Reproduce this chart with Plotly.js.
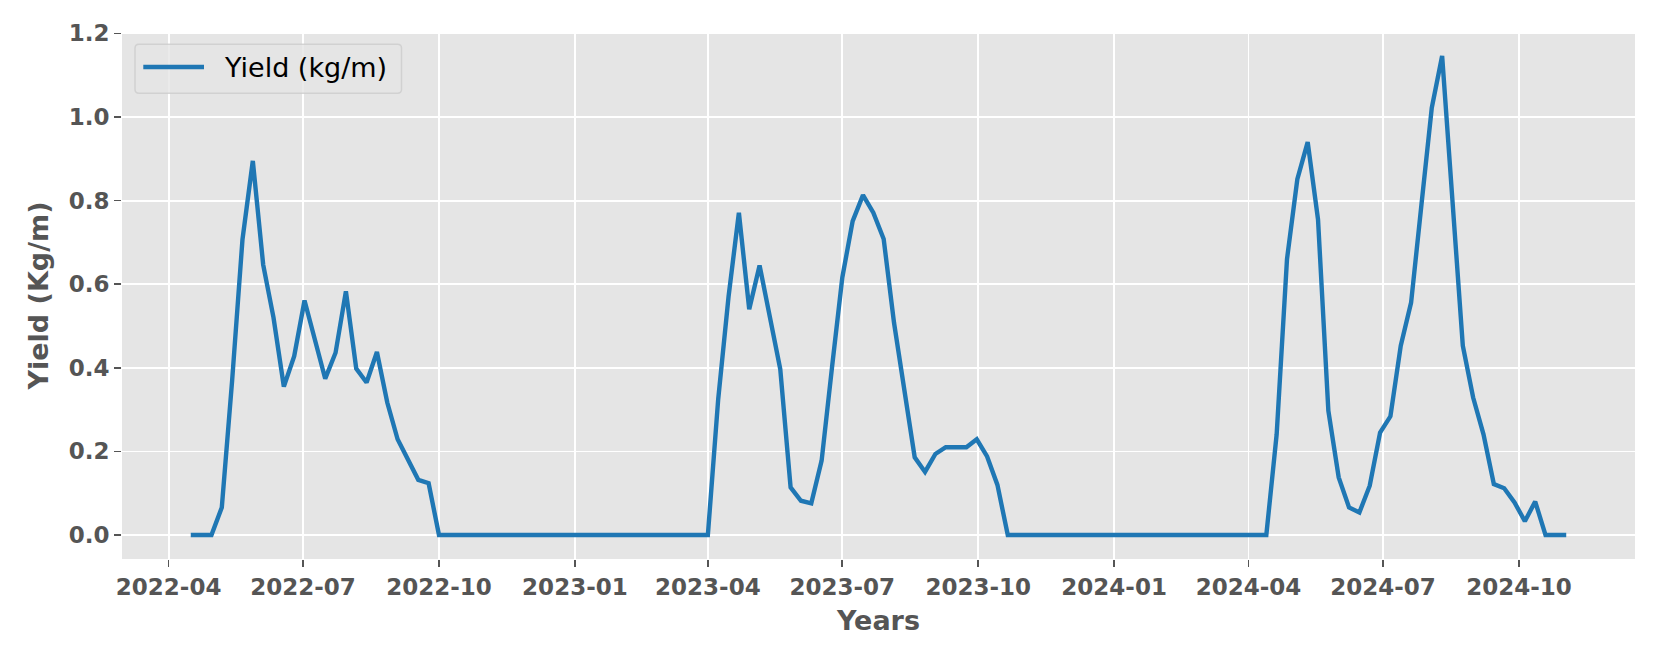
<!DOCTYPE html>
<html>
<head>
<meta charset="utf-8">
<script src="https://cdn.plot.ly/plotly-3.0.1.min.js"></script>
<style>html,body{margin:0;padding:0;background:#fff;}#chart{width:1661px;height:664px;}</style>
</head>
<body>
<div id="chart"></div>
<script>
// Weekly observation dates
const dates = [
"2022-04-16","2022-04-23","2022-04-30","2022-05-07","2022-05-14","2022-05-21","2022-05-28","2022-06-04","2022-06-11","2022-06-18","2022-06-25",
"2022-07-02","2022-07-09","2022-07-16","2022-07-23","2022-07-30","2022-08-06","2022-08-13","2022-08-20","2022-08-27","2022-09-03","2022-09-10",
"2022-09-17","2022-09-24","2022-10-01","2022-10-08","2022-10-15","2022-10-22","2022-10-29","2022-11-05","2022-11-12","2022-11-19","2022-11-26",
"2022-12-03","2022-12-10","2022-12-17","2022-12-24","2022-12-31",
"2023-01-07","2023-01-14","2023-01-21","2023-01-28","2023-02-04","2023-02-11","2023-02-18","2023-02-25","2023-03-04","2023-03-11","2023-03-18",
"2023-03-25","2023-04-01","2023-04-08","2023-04-15","2023-04-22","2023-04-29","2023-05-06","2023-05-13","2023-05-20","2023-05-27","2023-06-03",
"2023-06-10","2023-06-17","2023-06-24","2023-07-01","2023-07-08","2023-07-15","2023-07-22","2023-07-29","2023-08-05","2023-08-12","2023-08-19",
"2023-08-26","2023-09-02","2023-09-09","2023-09-16","2023-09-23","2023-09-30","2023-10-07","2023-10-14","2023-10-21","2023-10-28","2023-11-04",
"2023-11-11","2023-11-18","2023-11-25","2023-12-02","2023-12-09","2023-12-16","2023-12-23","2023-12-30",
"2024-01-06","2024-01-13","2024-01-20","2024-01-27","2024-02-03","2024-02-10","2024-02-17","2024-02-24","2024-03-02","2024-03-09","2024-03-16",
"2024-03-23","2024-03-30","2024-04-06","2024-04-13","2024-04-20","2024-04-27","2024-05-04","2024-05-11","2024-05-18","2024-05-25","2024-06-01",
"2024-06-08","2024-06-15","2024-06-22","2024-06-29","2024-07-06","2024-07-13","2024-07-20","2024-07-27","2024-08-03","2024-08-10","2024-08-17",
"2024-08-24","2024-08-31","2024-09-07","2024-09-14","2024-09-21","2024-09-28","2024-10-05","2024-10-12","2024-10-19","2024-10-26","2024-11-02"
];

// Yield (kg/m) per week
const yieldKgM = [
0,0,0,0.066,0.37,0.707,0.895,0.647,0.520,0.355,0.428,0.561,0.472,0.374,0.436,0.583,0.398,0.365,0.438,0.317,0.229,0.181,0.132,0.124,0,
0,0,0,0,0,0,0,0,0,0,0,0,0,0,0,0,0,0,0,0,0,0,0,0,0,
0,0.325,0.57,0.771,0.540,0.645,0.52,0.397,0.114,0.082,0.076,0.178,0.40,0.616,0.751,0.813,0.771,0.708,0.508,0.35,0.186,0.151,0.194,0.210,0.210,0.210,0.229,0.188,0.120,0,
0,0,0,0,0,0,0,0,0,0,0,0,0,0,0,0,0,0,0,0,0,0,0,0,
0,0.241,0.660,0.851,0.940,0.755,0.297,0.138,0.066,0.054,0.118,0.245,0.284,0.453,0.556,0.79,1.022,1.146,0.80,0.453,0.329,0.241,0.122,0.112,0.078,0.033,0.080,0,0,0
];

const xTickVals = ["2022-04-01","2022-07-01","2022-10-01","2023-01-01","2023-04-01","2023-07-01","2023-10-01","2024-01-01","2024-04-01","2024-07-01","2024-10-01"];
const xTickText = ["2022-04","2022-07","2022-10","2023-01","2023-04","2023-07","2023-10","2024-01","2024-04","2024-07","2024-10"];
const yTickVals = [0.0,0.2,0.4,0.6,0.8,1.0,1.2];

const seriesName = "Yield (kg/m)";
const xTitle = "Years";
const yTitle = "Yield (Kg/m)";

// matplotlib-like 5% data margins
const toMs = d => new Date(d + "T00:00:00Z").getTime();
const t0 = toMs(dates[0]), t1 = toMs(dates[dates.length-1]);
const tPad = (t1 - t0) * 0.05;
const fmt = ms => new Date(ms).toISOString().slice(0,19).replace("T"," ");
const yMin = Math.min(...yieldKgM), yMax = Math.max(...yieldKgM);
const yPad = (yMax - yMin) * 0.05;

const FONT = "DejaVu Sans";
const W = 1661, H = 664;
const M = {l:122, r:26, t:32, b:105};
const PW = W - M.l - M.r, PH = H - M.t - M.b;
const px = x => (x - M.l) / PW;        // pixel -> paper x
const py = y => (H - M.b - y) / PH;    // pixel -> paper y

// legend box (rounded)
const lx0 = px(135), lx1 = px(401.5), ly0 = py(93.3), ly1 = py(44.3);
const rx = 4 / PW, ry = 4 / PH;
const legPath = `M${lx0+rx},${ly0} L${lx1-rx},${ly0} Q${lx1},${ly0} ${lx1},${ly0+ry} L${lx1},${ly1-ry} Q${lx1},${ly1} ${lx1-rx},${ly1} L${lx0+rx},${ly1} Q${lx0},${ly1} ${lx0},${ly1-ry} L${lx0},${ly0+ry} Q${lx0},${ly0} ${lx0+rx},${ly0} Z`;
const legY = py(67);

const trace = {
  x: dates, y: yieldKgM, type: "scatter", mode: "lines", name: seriesName,
  line: {color: "#1f77b4", width: 4.4}, showlegend: false, hoverinfo: "x+y"
};

const tickFont = {family: FONT, size: 23, color: "#555555", weight: "bold"};
const layout = {
  width: W, height: H,
  margin: M,
  paper_bgcolor: "#ffffff",
  plot_bgcolor: "#E5E5E5",
  showlegend: false,
  xaxis: {
    type: "date",
    range: [fmt(t0 - tPad), fmt(t1 + tPad)],
    tickvals: xTickVals, ticktext: xTickText,
    ticks: "outside", ticklen: 7, tickwidth: 1.7, tickcolor: "#555555",
    tickfont: tickFont,
    showgrid: true, gridcolor: "#ffffff", gridwidth: 1.8,
    zeroline: false, showline: false,
    automargin: false,
    title: {text: xTitle, font: {family: FONT, size: 27, color: "#555555", weight: "bold"}, standoff: 12}
  },
  yaxis: {
    range: [yMin - yPad, yMax + yPad],
    tickvals: yTickVals, tickformat: ".1f",
    ticks: "outside", ticklen: 7, tickwidth: 1.7, tickcolor: "#555555",
    tickfont: tickFont,
    showgrid: true, gridcolor: "#ffffff", gridwidth: 1.8,
    zeroline: false, showline: false,
    automargin: false,
    title: {text: yTitle, font: {family: FONT, size: 27, color: "#555555", weight: "bold"}, standoff: 12}
  },
  shapes: [
    {type: "path", xref: "paper", yref: "paper", path: legPath, layer: "above",
     fillcolor: "rgba(229,229,229,0.8)", line: {color: "rgba(204,204,204,0.8)", width: 1.5}},
    {type: "line", xref: "paper", yref: "paper", x0: px(143.3), x1: px(204), y0: legY, y1: legY, layer: "above",
     line: {color: "#1f77b4", width: 4.4}}
  ],
  annotations: [
    {xref: "paper", yref: "paper", x: px(222), y: legY, xanchor: "left", yanchor: "middle",
     text: seriesName, showarrow: false, font: {family: FONT, size: 27, color: "#000000"}}
  ]
};

Plotly.newPlot("chart", [trace], layout, {displayModeBar: false, staticPlot: true});
</script>
</body>
</html>
